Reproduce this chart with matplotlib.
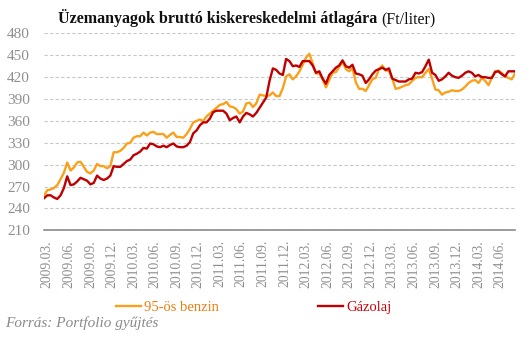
import numpy as np
import matplotlib
matplotlib.use("Agg")
import matplotlib.pyplot as plt

# kéthetes adatok (hetek a kezdettől), Ft/liter
benzin = [258, 265, 266, 268, 272, 280, 289, 303, 292, 296,
          303, 304, 297, 290, 288, 292, 301, 298, 298, 295,
          298, 317, 317, 319, 323, 329, 330, 337, 339, 339,
          344, 340, 344, 345, 342, 342, 342, 337, 341, 344,
          338, 338, 337, 342, 349, 358, 360, 362, 360, 366,
          370, 374, 378, 382, 383, 386, 380, 379, 376, 370,
          373, 384, 385, 379, 384, 396, 395, 394, 395, 399,
          394, 394, 405, 421, 424, 417, 421, 428, 437, 447,
          452, 439, 425, 425, 417, 406, 416, 426, 427, 434,
          441, 431, 428, 432, 413, 404, 404, 401, 409, 417,
          419, 431, 436, 429, 429, 418, 404, 405, 407, 409,
          410, 415, 419, 420, 420, 426, 431, 418, 403, 402,
          396, 399, 400, 402, 401, 401, 403, 407, 412, 415,
          416, 412, 419, 415, 409, 419, 428, 429, 426, 421,
          419, 417, 425]
gazolaj = [254, 258, 258, 255, 253, 258, 268, 284, 272, 273,
           277, 282, 280, 278, 273, 275, 285, 281, 279, 281,
           285, 298, 297, 297, 301, 305, 307, 313, 315, 318,
           323, 322, 329, 328, 325, 324, 326, 324, 327, 329,
           325, 324, 324, 326, 331, 343, 347, 354, 358, 358,
           363, 372, 374, 374, 374, 370, 361, 364, 366, 358,
           366, 371, 369, 366, 371, 378, 385, 392, 415, 432,
           430, 425, 423, 445, 442, 435, 436, 434, 442, 442,
           442, 436, 426, 428, 418, 411, 423, 428, 433, 436,
           443, 435, 433, 437, 425, 424, 422, 412, 417, 424,
           429, 431, 433, 430, 432, 418, 416, 414, 414, 414,
           417, 418, 426, 425, 427, 435, 444, 426, 423, 415,
           417, 421, 426, 422, 420, 419, 422, 426, 428, 426,
           421, 423, 420, 420, 419, 419, 427, 428, 424, 421,
           428, 428, 428]
honapok = ["2009.03.", "2009.06.", "2009.09.", "2009.12.", "2010.03.", "2010.06.",
           "2010.09.", "2010.12.", "2011.03.", "2011.06.", "2011.09.", "2011.12.",
           "2012.03.", "2012.06.", "2012.09.", "2012.12.", "2013.03.", "2013.06.",
           "2013.09.", "2013.12.", "2014.03.", "2014.06."]

hetek = np.arange(len(benzin)) * 2
tick_hetek = 2 + 13 * np.arange(len(honapok))

SERIF = ["Liberation Serif", "DejaVu Serif"]
szurke = "#8f8f8f"
narancs = "#f9a11b"
piros = "#c00000"

fig = plt.figure(figsize=(5.29, 3.40), dpi=100)
ax = fig.add_axes([44 / 529, 0.3226, (515 - 44) / 529, 0.9018 - 0.3226])

l1, = ax.plot(hetek, benzin, color=narancs, lw=1.7, label="95-ös benzin")
l2, = ax.plot(hetek, gazolaj, color=piros, lw=1.7, label="Gázolaj")

ax.set_xlim(0, hetek[-1])
ax.set_ylim(210, 480)
ax.set_yticks(np.arange(210, 481, 30))
ax.set_xticks(tick_hetek)
ax.set_xticklabels(honapok, rotation=90, family=SERIF, fontsize=9.8, color=szurke)
for t in ax.get_yticklabels():
    t.set_family(SERIF)
    t.set_fontsize(11)
    t.set_color(szurke)
ax.tick_params(axis="both", length=0)
ax.tick_params(axis="y", pad=10)
ax.tick_params(axis="x", pad=7)

ax.grid(axis="y", color="#c8c8c8", lw=0.8, linestyle=(0, (3, 2)))
ax.set_axisbelow(True)
for s in ["left", "right", "top"]:
    ax.spines[s].set_visible(False)
ax.spines["bottom"].set_color("#8a8a8a")
ax.spines["bottom"].set_linewidth(1.2)

leg = fig.legend(handles=[l1, l2], loc="center", bbox_to_anchor=(0.48, 0.095), ncol=2,
                 frameon=False, prop={"family": SERIF, "size": 10.5},
                 handlelength=1.7, handletextpad=0.25, columnspacing=6.8)
leg.get_texts()[0].set_color("#ee7d10")
leg.get_texts()[1].set_color("#c8000a")

# cím: félkövér rész + normál rész
fig.canvas.draw()
r = fig.canvas.get_renderer()
t1 = fig.text(58 / 529, 1 - 23 / 340, "Üzemanyagok bruttó kiskereskedelmi átlagára",
              family=SERIF, fontsize=11.5, fontweight="bold", color="#111111")
bb = t1.get_window_extent(r)
fig.text(bb.x1 / fig.bbox.width + 4 / 529, 1 - 23 / 340, "(Ft/liter)",
         family=SERIF, fontsize=11.5, color="#111111")

fig.text(5 / 529, 1 - 327 / 340, "Forrás: Portfolio gyűjtés", family=SERIF,
         fontsize=11, style="italic", color="#8a8a8a")

fig.savefig("out.png", dpi=100)
